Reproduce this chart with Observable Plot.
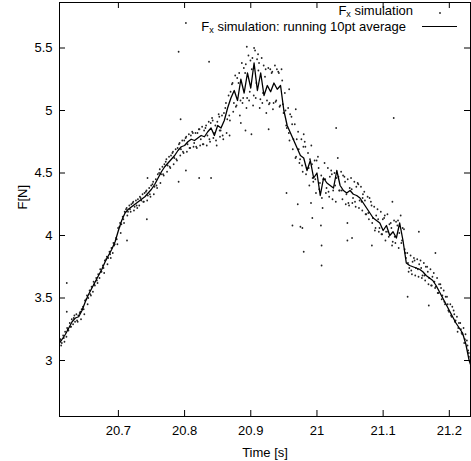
<!DOCTYPE html>
<html><head><meta charset="utf-8">
<script src="https://cdn.jsdelivr.net/npm/d3@7"></script>
<script src="https://cdn.jsdelivr.net/npm/@observablehq/plot@0.6"></script>
<style>body{margin:0;background:#fff} svg{display:block}</style>
</head><body><div id="chart"></div>
<script>
// Running 10pt average of F_x (time in s, force in N)
const avgTime = [
20.610,20.615,20.620,20.625,20.630,20.635,20.640,20.645,20.650,20.655,
20.660,20.665,20.670,20.675,20.680,20.685,20.690,20.695,20.700,20.705,
20.710,20.715,20.720,20.725,20.730,20.735,20.740,20.745,20.750,20.755,
20.760,20.765,20.770,20.775,20.780,20.785,20.790,20.795,20.800,20.805,
20.810,20.815,20.820,20.825,20.830,20.835,20.840,20.845,20.850,20.855,
20.860,20.865,20.870,20.875,20.880,20.885,20.890,20.895,20.900,20.905,
20.910,20.915,20.920,20.925,20.930,20.935,20.940,20.945,20.950,20.955,
20.960,20.965,20.970,20.975,20.980,20.985,20.990,20.995,21.000,21.005,
21.010,21.015,21.020,21.025,21.030,21.035,21.040,21.045,21.050,21.055,
21.060,21.065,21.070,21.075,21.080,21.085,21.090,21.095,21.100,21.105,
21.110,21.115,21.120,21.125,21.130,21.135,21.140,21.145,21.150,21.155,
21.160,21.165,21.170,21.175,21.180,21.185,21.190,21.195,21.200,21.205,
21.210,21.215,21.220,21.225,21.230,21.235];
const avgForce = [
3.13,3.17,3.21,3.26,3.31,3.34,3.35,3.40,3.47,3.53,
3.58,3.63,3.68,3.73,3.79,3.84,3.89,3.95,4.04,4.12,
4.18,4.21,4.23,4.25,4.27,4.29,4.31,4.34,4.37,4.41,
4.46,4.51,4.55,4.58,4.61,4.64,4.68,4.71,4.72,4.75,
4.77,4.76,4.78,4.80,4.79,4.83,4.86,4.80,4.88,4.86,
4.92,5.02,5.10,5.16,5.08,5.25,5.14,5.30,5.18,5.38,
5.16,5.30,5.12,5.20,5.15,5.22,5.17,5.20,5.00,4.88,
4.82,4.76,4.70,4.64,4.62,4.52,4.60,4.46,4.50,4.32,
4.46,4.42,4.40,4.38,4.52,4.40,4.36,4.34,4.36,4.33,
4.32,4.30,4.26,4.22,4.18,4.14,4.12,4.10,4.04,4.08,
4.00,4.03,3.98,4.10,3.96,3.78,3.76,3.75,3.74,3.73,
3.71,3.68,3.66,3.64,3.60,3.55,3.50,3.45,3.40,3.35,
3.30,3.26,3.22,3.13,3.00,2.92];

// F_x simulation samples (dots), first pass
const simTime = [
20.6115,20.6135,20.6165,20.6185,20.6215,20.6235,20.6265,20.6285,20.6315,20.6335,
20.6365,20.6385,20.6415,20.6435,20.6465,20.6485,20.6515,20.6535,20.6565,20.6585,
20.6615,20.6635,20.6665,20.6685,20.6715,20.6735,20.6765,20.6785,20.6815,20.6835,
20.6865,20.6885,20.6915,20.6935,20.6965,20.6985,20.7015,20.7035,20.7065,20.7085,
20.7115,20.7135,20.7165,20.7185,20.7215,20.7235,20.7265,20.7285,20.7315,20.7335,
20.7365,20.7385,20.7415,20.7435,20.7465,20.7485,20.7515,20.7535,20.7565,20.7585,
20.7615,20.7635,20.7665,20.7685,20.7715,20.7735,20.7765,20.7785,20.7815,20.7835,
20.7865,20.7885,20.7915,20.7935,20.7965,20.7985,20.8015,20.8035,20.8065,20.8085,
20.8115,20.8135,20.8165,20.8185,20.8215,20.8235,20.8265,20.8285,20.8315,20.8335,
20.8365,20.8385,20.8415,20.8435,20.8465,20.8485,20.8515,20.8535,20.8565,20.8585,
20.8615,20.8635,20.8665,20.8685,20.8715,20.8735,20.8765,20.8785,20.8815,20.8835,
20.8865,20.8885,20.8915,20.8935,20.8965,20.8985,20.9015,20.9035,20.9065,20.9085,
20.9115,20.9135,20.9165,20.9185,20.9215,20.9235,20.9265,20.9285,20.9315,20.9335,
20.9365,20.9385,20.9415,20.9435,20.9465,20.9485,20.9515,20.9535,20.9565,20.9585,
20.9615,20.9635,20.9665,20.9685,20.9715,20.9735,20.9765,20.9785,20.9815,20.9835,
20.9865,20.9885,20.9915,20.9935,20.9965,20.9985,21.0015,21.0035,21.0065,21.0085,
21.0115,21.0135,21.0165,21.0185,21.0215,21.0235,21.0265,21.0285,21.0315,21.0335,
21.0365,21.0385,21.0415,21.0435,21.0465,21.0485,21.0515,21.0535,21.0565,21.0585,
21.0615,21.0635,21.0665,21.0685,21.0715,21.0735,21.0765,21.0785,21.0815,21.0835,
21.0865,21.0885,21.0915,21.0935,21.0965,21.0985,21.1015,21.1035,21.1065,21.1085,
21.1115,21.1135,21.1165,21.1185,21.1215,21.1235,21.1265,21.1285,21.1315,21.1335,
21.1365,21.1385,21.1415,21.1435,21.1465,21.1485,21.1515,21.1535,21.1565,21.1585,
21.1615,21.1635,21.1665,21.1685,21.1715,21.1735,21.1765,21.1785,21.1815,21.1835,
21.1865,21.1885,21.1915,21.1935,21.1965,21.1985,21.2015,21.2035,21.2065,21.2085,
21.2115,21.2135,21.2165,21.2185,21.2215,21.2235,21.2265,21.2285,21.2315,21.2335];
const simForce = [
3.16,3.12,3.20,3.15,3.19,3.25,3.30,3.27,3.29,3.36,
3.37,3.31,3.38,3.33,3.43,3.37,3.49,3.45,3.56,3.52,
3.55,3.61,3.66,3.62,3.66,3.71,3.76,3.70,3.81,3.77,
3.87,3.82,3.86,3.92,3.98,3.93,4.07,4.02,4.15,4.10,
4.21,4.16,4.24,4.19,4.26,4.20,4.28,4.22,4.24,4.30,
4.33,4.27,4.35,4.28,4.38,4.31,4.41,4.33,4.45,4.38,
4.50,4.42,4.55,4.48,4.59,4.51,4.63,4.54,4.66,4.57,
4.69,4.60,4.73,4.64,4.76,4.66,4.78,4.67,4.81,4.70,
4.83,4.71,4.82,4.70,4.85,4.72,4.87,4.73,4.86,4.72,
4.91,4.75,4.94,4.78,4.88,4.72,4.97,4.79,4.96,4.77,
5.02,4.82,5.12,4.92,5.21,4.99,5.28,5.04,5.22,4.96,
5.38,5.10,5.30,5.02,5.44,5.15,5.33,5.04,5.48,5.22,
5.32,5.02,5.42,5.14,5.27,4.98,5.34,5.06,5.30,5.01,
5.36,5.08,5.31,5.03,5.33,5.05,5.14,4.88,5.02,4.76,
4.95,4.69,4.89,4.63,4.83,4.58,4.77,4.51,4.75,4.49,
4.66,4.40,4.72,4.46,4.60,4.34,4.63,4.37,4.48,4.22,
4.58,4.34,4.54,4.31,4.52,4.29,4.50,4.27,4.62,4.36,
4.51,4.29,4.47,4.25,4.45,4.24,4.46,4.26,4.43,4.23,
4.42,4.22,4.39,4.20,4.35,4.17,4.31,4.13,4.27,4.10,
4.23,4.06,4.21,4.03,4.19,4.01,4.14,3.96,4.17,3.99,
4.10,3.92,4.12,3.94,4.08,3.90,4.16,3.96,4.05,3.86,
3.86,3.71,3.84,3.69,3.82,3.68,3.81,3.67,3.80,3.66,
3.78,3.64,3.75,3.61,3.73,3.60,3.70,3.58,3.66,3.54,
3.61,3.49,3.56,3.45,3.51,3.40,3.45,3.35,3.40,3.31,
3.35,3.26,3.30,3.22,3.26,3.17,3.16,3.08,3.03,2.96];

// F_x simulation samples (dots), interleaved second pass
const simTime2 = [
20.6125,20.6145,20.6175,20.6195,20.6225,20.6245,20.6275,20.6295,20.6325,20.6345,
20.6375,20.6395,20.6425,20.6445,20.6475,20.6495,20.6525,20.6545,20.6575,20.6595,
20.6625,20.6645,20.6675,20.6695,20.6725,20.6745,20.6775,20.6795,20.6825,20.6845,
20.6875,20.6895,20.6925,20.6945,20.6975,20.6995,20.7025,20.7045,20.7075,20.7095,
20.7125,20.7145,20.7175,20.7195,20.7225,20.7245,20.7275,20.7295,20.7325,20.7345,
20.7375,20.7395,20.7425,20.7445,20.7475,20.7495,20.7525,20.7545,20.7575,20.7595,
20.7625,20.7645,20.7675,20.7695,20.7725,20.7745,20.7775,20.7795,20.7825,20.7845,
20.7875,20.7895,20.7925,20.7945,20.7975,20.7995,20.8025,20.8045,20.8075,20.8095,
20.8125,20.8145,20.8175,20.8195,20.8225,20.8245,20.8275,20.8295,20.8325,20.8345,
20.8375,20.8395,20.8425,20.8445,20.8475,20.8495,20.8525,20.8545,20.8575,20.8595,
20.8625,20.8645,20.8675,20.8695,20.8725,20.8745,20.8775,20.8795,20.8825,20.8845,
20.8875,20.8895,20.8925,20.8945,20.8975,20.8995,20.9025,20.9045,20.9075,20.9095,
20.9125,20.9145,20.9175,20.9195,20.9225,20.9245,20.9275,20.9295,20.9325,20.9345,
20.9375,20.9395,20.9425,20.9445,20.9475,20.9495,20.9525,20.9545,20.9575,20.9595,
20.9625,20.9645,20.9675,20.9695,20.9725,20.9745,20.9775,20.9795,20.9825,20.9845,
20.9875,20.9895,20.9925,20.9945,20.9975,20.9995,21.0025,21.0045,21.0075,21.0095,
21.0125,21.0145,21.0175,21.0195,21.0225,21.0245,21.0275,21.0295,21.0325,21.0345,
21.0375,21.0395,21.0425,21.0445,21.0475,21.0495,21.0525,21.0545,21.0575,21.0595,
21.0625,21.0645,21.0675,21.0695,21.0725,21.0745,21.0775,21.0795,21.0825,21.0845,
21.0875,21.0895,21.0925,21.0945,21.0975,21.0995,21.1025,21.1045,21.1075,21.1095,
21.1125,21.1145,21.1175,21.1195,21.1225,21.1245,21.1275,21.1295,21.1325,21.1345,
21.1375,21.1395,21.1425,21.1445,21.1475,21.1495,21.1525,21.1545,21.1575,21.1595,
21.1625,21.1645,21.1675,21.1695,21.1725,21.1745,21.1775,21.1795,21.1825,21.1845,
21.1875,21.1895,21.1925,21.1945,21.1975,21.1995,21.2025,21.2045,21.2075,21.2095,
21.2125,21.2145,21.2175,21.2195,21.2225,21.2245,21.2275,21.2295,21.2325,21.2345];
const simForce2 = [
3.17,3.14,3.18,3.23,3.26,3.24,3.27,3.33,3.34,3.31,
3.32,3.36,3.39,3.41,3.41,3.48,3.52,3.50,3.53,3.59,
3.63,3.60,3.64,3.69,3.73,3.71,3.74,3.80,3.83,3.82,
3.85,3.90,3.94,3.93,3.97,4.06,4.10,4.09,4.13,4.19,
4.22,4.19,4.21,4.25,4.27,4.23,4.24,4.29,4.31,4.28,
4.27,4.34,4.36,4.32,4.33,4.40,4.43,4.39,4.40,4.49,
4.53,4.49,4.49,4.57,4.61,4.56,4.55,4.64,4.67,4.62,
4.61,4.70,4.74,4.69,4.67,4.76,4.79,4.73,4.70,4.80,
4.82,4.74,4.71,4.82,4.85,4.77,4.73,4.84,4.88,4.80,
4.77,4.90,4.92,4.82,4.76,4.91,4.95,4.84,4.80,4.98,
5.06,4.93,4.96,5.15,5.22,5.06,5.03,5.26,5.30,5.08,
5.06,5.34,5.37,5.10,5.08,5.40,5.42,5.12,5.10,5.41,
5.38,5.09,5.06,5.36,5.33,5.08,5.05,5.33,5.31,5.06,
5.07,5.33,5.30,5.04,5.24,4.98,5.00,4.86,4.82,4.97,
4.89,4.77,4.62,4.77,4.69,4.61,4.56,4.71,4.71,4.54,
4.54,4.61,4.57,4.43,4.45,4.60,4.54,4.42,4.30,4.45,
4.45,4.38,4.35,4.47,4.49,4.36,4.40,4.46,4.47,4.36,
4.36,4.48,4.43,4.33,4.26,4.38,4.37,4.30,4.27,4.39,
4.41,4.28,4.27,4.33,4.28,4.17,4.18,4.30,4.24,4.14,
4.04,4.16,4.13,4.06,4.01,4.13,4.16,4.03,4.03,4.09,
4.06,3.95,3.99,4.11,4.12,4.02,3.94,4.06,3.89,3.82,
3.78,3.74,3.72,3.79,3.80,3.74,3.73,3.77,3.74,3.68,
3.68,3.75,3.71,3.66,3.60,3.67,3.63,3.59,3.54,3.61,
3.58,3.52,3.47,3.51,3.45,3.39,3.36,3.43,3.37,3.32,
3.23,3.30,3.25,3.21,3.14,3.21,3.12,3.06,2.95,2.99];

// isolated simulation samples away from the band
const strayTime = [
20.622,20.622,20.713,20.743,20.744,20.791,20.802,20.791,20.837,20.794,
20.840,20.802,20.885,20.892,20.901,20.894,20.905,20.911,20.927,20.958,
20.968,20.980,20.954,20.971,20.991,20.963,20.975,20.978,21.006,21.007,
21.007,20.980,20.993,21.029,21.046,21.046,21.069,21.083,21.053,21.114,
21.116,21.154,21.179,21.137,21.169,20.868,20.853,20.822];
const strayForce = [
3.62,3.39,3.96,4.13,4.46,4.43,4.52,5.47,5.39,4.93,
4.46,5.70,4.90,4.84,4.81,5.51,5.50,5.45,4.85,5.17,
5.01,4.81,4.34,4.25,4.26,4.08,4.07,4.06,4.08,3.92,
3.76,3.87,4.14,4.86,4.10,3.96,4.30,3.92,3.98,4.27,
4.94,4.03,3.86,3.51,3.44,4.80,4.84,4.46];

const xTicks = [20.7, 20.8, 20.9, 21, 21.1, 21.2];
const yTicks = [3, 3.5, 4, 4.5, 5, 5.5];

const avg = avgTime.map((t, i) => ({t, f: avgForce[i]}));
const sim = simTime.map((t, i) => ({t, f: simForce[i]}))
  .concat(simTime2.map((t, i) => ({t, f: simForce2[i]})))
  .concat(strayTime.map((t, i) => ({t, f: strayForce[i]})));

const W = 471, H = 461, ML = 59, MR = 1, MT = 2, MB = 45;
const PW = W - ML - MR, PH = H - MT - MB, TK = 6;
const FONT = "'Liberation Sans', Arial, Helvetica, sans-serif";

const svg = Plot.plot({
  width: W, height: H,
  marginLeft: ML, marginRight: MR, marginTop: MT, marginBottom: MB,
  style: {fontFamily: FONT, fontSize: "13px", background: "white", color: "black"},
  x: {domain: [20.611, 21.232]},
  y: {domain: [2.552, 5.864]},
  marks: [
    Plot.dot(sim, {x: "t", y: "f", r: 0.9, fill: "#222", stroke: null, clip: true}),
    Plot.line(avg, {x: "t", y: "f", stroke: "black", strokeWidth: 1.3, clip: true}),
    Plot.ruleY(yTicks, {y: d => d, insetRight: PW - TK, stroke: "black"}),
    Plot.ruleY(yTicks, {y: d => d, insetLeft: PW - TK, stroke: "black"}),
    Plot.ruleX(xTicks, {x: d => d, insetTop: PH - TK, stroke: "black"}),
    Plot.ruleX(xTicks, {x: d => d, insetBottom: PH - TK, stroke: "black"}),
    Plot.axisX(xTicks, {tickSize: 0, tickPadding: 9, label: null, tickFormat: d => String(d), fill: "black"}),
    Plot.axisY(yTicks, {tickSize: 0, tickPadding: 7, label: null, tickFormat: d => String(d), fill: "black"}),
    Plot.frame({stroke: "black"}),
    Plot.text(["Time [s]"], {frameAnchor: "bottom", dy: 36, lineAnchor: "middle", text: d => d, fill: "black"}),
    Plot.text(["F[N]"], {frameAnchor: "left", dx: -37, rotate: -90, text: d => d, fill: "black"})
  ]
});

// key (top right, inside the frame)
const key = d3.select(svg).append("g").attr("font-family", FONT).attr("font-size", 13).attr("fill", "black");
const k1 = key.append("text").attr("x", 413).attr("y", 15).attr("text-anchor", "end");
k1.append("tspan").text("F");
k1.append("tspan").attr("font-size", 9).attr("dy", 2).text("x");
k1.append("tspan").attr("dy", -2).text(" simulation");
key.append("circle").attr("cx", 440).attr("cy", 13).attr("r", 0.9).attr("fill", "#222");
const k2 = key.append("text").attr("x", 406).attr("y", 31).attr("text-anchor", "end");
k2.append("tspan").text("F");
k2.append("tspan").attr("font-size", 9).attr("dy", 2).text("x");
k2.append("tspan").attr("dy", -2).text(" simulation: running 10pt average");
key.append("line").attr("x1", 422).attr("x2", 457).attr("y1", 26.5).attr("y2", 26.5)
  .attr("stroke", "black").attr("stroke-width", 1.1);

document.getElementById("chart").appendChild(svg);
</script>
</body></html>
